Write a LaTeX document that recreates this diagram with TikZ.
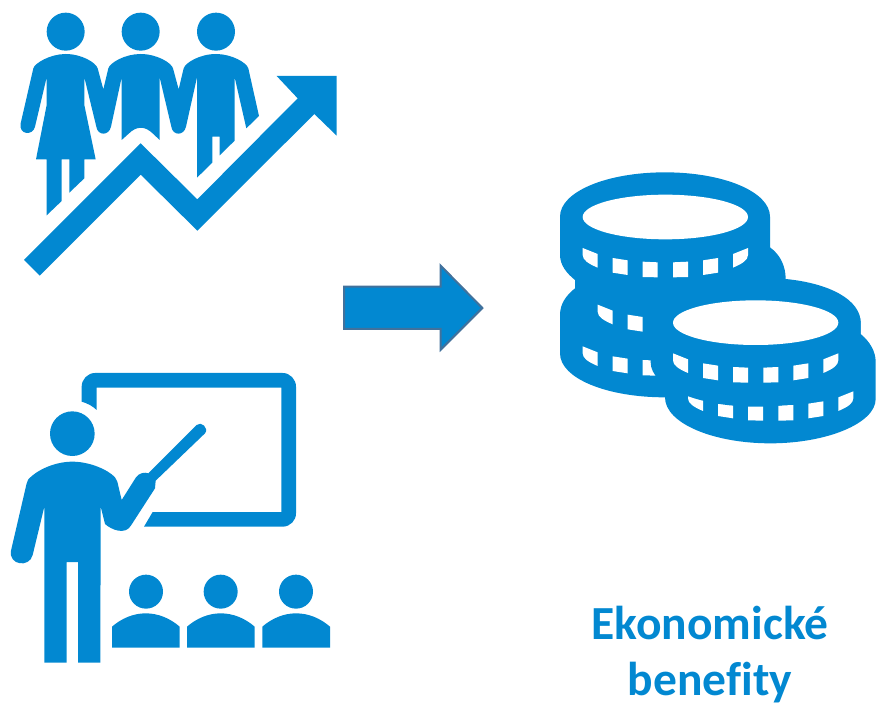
\documentclass[tikz,border=0pt]{standalone}
\usepackage{fontspec}
\setmainfont[Ligatures=NoCommon]{Carlito}
\definecolor{iconblue}{HTML}{0288D1}
\definecolor{arrowedge}{HTML}{41719C}
\newcommand{\coinrow}[2]{%
  \begin{scope}[shift={(#1,#2)}]
    \fill[iconwhite] (128,264) -- (173,282) -- (173,323) .. controls (145,311) and (128,300) .. (128,285) -- cycle;
    \fill[iconwhite] (218,294) -- (263,301) -- (263,345) -- (218,338) -- cycle;
    \fill[iconwhite] (308,305) -- (353,307) -- (353,352) -- (308,351) -- cycle;
    \fill[iconwhite] (399,307) -- (444,305) -- (444,351) -- (399,352) -- cycle;
    \fill[iconwhite] (489,301) -- (534,294) -- (534,338) -- (489,345) -- cycle;
    \fill[iconwhite] (579,282) -- (624,264) -- (624,285) .. controls (624,300) and (607,311) .. (579,323) -- cycle;
  \end{scope}}
\tikzset{
  icon/.style={fill=iconblue,draw=none},
  iconwhite/.style={fill=white,draw=none},
  bigarrow/.style={fill=iconblue,draw=arrowedge,line width=2pt,line join=miter},
  caption/.style={text=iconblue,font=\fontsize{47.5}{56}\selectfont\bfseries,align=center,inner sep=0pt}
}
\begin{document}
\begin{tikzpicture}[x=0.33333pt,y=-0.33333pt]
\useasboundingbox (0,0) rectangle (2634,2124);
% people + rising arrow
\begin{scope}
  \fill[icon] (197,95) circle[radius=57];
  \fill[icon] (422,95) circle[radius=57];
  \fill[icon] (648,95) circle[radius=57];
  \fill[icon] (100,205) .. controls (104,190) and (150,162) .. (197,162)
    .. controls (245,162) and (288,188) .. (293,205) -- (310,268) -- (325,205)
    .. controls (330,188) and (375,162) .. (422,162)
    .. controls (470,162) and (514,188) .. (519,205) -- (536,268) -- (551,205)
    .. controls (556,188) and (600,162) .. (648,162)
    .. controls (695,162) and (740,188) .. (745,205)
    -- (777,348) -- (739,385) -- (704,232) -- (704,422) -- (659,466) -- (659,410) -- (637,410)
    -- (637,488) -- (591,533) -- (591,232) -- (558,380)
    .. controls (552,408) and (518,408) .. (514,380) -- (479,232) -- (479,420) -- (460,402)
    .. controls (435,377) and (410,377) .. (385,402) -- (365,420) -- (365,232) -- (333,380)
    .. controls (327,408) and (293,408) .. (289,380) -- (253,232) -- (253,315) -- (287,478)
    -- (253,478) -- (253,535) -- (208,578) -- (208,478) -- (185,478) -- (185,603) -- (140,646)
    -- (140,478) -- (108,478) -- (140,315) -- (140,232) -- (105,380)
    .. controls (99,408) and (55,405) .. (62,370) -- cycle;
  \fill[icon] (72,780) -- (422,430) -- (592,598) -- (893,295) -- (830,228) -- (1010,228)
    -- (1010,407) -- (943,342) -- (592,692) -- (422,524) -- (119,827) -- cycle;
\end{scope}
% teacher
\begin{scope}[shift={(0,1080)}]
  \fill[icon] (245,125) -- (245,80) .. controls (245,58) and (263,39) .. (285,39) -- (848,39)
    .. controls (870,39) and (888,58) .. (888,80) -- (888,460)
    .. controls (888,482) and (870,500) .. (848,500) -- (432,500) -- (458,456) -- (844,456) -- (844,83)
    -- (290,83) -- (290,150) .. controls (278,138) and (262,130) .. (245,125) -- cycle;
  \fill[icon] (217,221) circle[radius=67];
  \fill[icon] (85,358) .. controls (110,330) and (165,305) .. (217,305)
    .. controls (270,305) and (325,330) .. (345,352) -- (352,365) -- (365,420) -- (408,352)
    .. controls (418,338) and (435,336) .. (445,340) -- (590,195)
    .. controls (603,182) and (628,205) .. (615,220) -- (467,362) -- (465,385) -- (392,498)
    .. controls (375,525) and (335,510) .. (315,492) -- (302,440) -- (301,908) -- (234,908)
    -- (234,606) -- (200,606) -- (200,908) -- (133,908) -- (133,440) -- (98,585)
    .. controls (88,625) and (25,615) .. (33,572) -- (80,370) -- cycle;
  \fill[icon] (438,695) circle[radius=51];
  \fill[icon] (662,695) circle[radius=51];
  \fill[icon] (888,695) circle[radius=51];
  \foreach \dx in {0,225,451}{
    \fill[icon,shift={(\dx,0)}] (336,863) -- (336,800) .. controls (365,775) and (400,760) .. (437,760)
      .. controls (475,760) and (510,775) .. (539,800) -- (539,863) -- cycle;
  }
\end{scope}
% block arrow
\begin{scope}[shift={(992,752)}]
  \path[bigarrow] (40,108) -- (330,108) -- (330,45) -- (455,172) -- (330,297) -- (330,235) -- (40,235) -- cycle;
\end{scope}
% coins
\begin{scope}[shift={(1620,480)}]
  \fill[icon] (60,170) .. controls (60,95) and (200,37) .. (375,37)
    .. controls (550,37) and (690,95) .. (690,170) -- (690,262)
    .. controls (722,285) and (737,320) .. (737,357)
    .. controls (870,370) and (962,420) .. (962,488) -- (962,522)
    .. controls (990,545) and (1007,575) .. (1007,605) -- (1007,717)
    .. controls (1007,790) and (860,850) .. (691,850)
    .. controls (520,850) and (375,790) .. (375,712)
    .. controls (200,712) and (60,655) .. (60,580) -- (60,465)
    .. controls (60,430) and (80,405) .. (105,385) -- (105,360)
    .. controls (80,340) and (60,315) .. (60,285) -- cycle;
  \coinrow{45}{170}
  \coinrow{0}{295}
  \coinrow{316}{430}
  \fill[icon] (332,488) .. controls (332,415) and (472,355) .. (647,355)
    .. controls (822,355) and (962,415) .. (962,488) -- (962,607)
    .. controls (962,680) and (822,740) .. (647,740)
    .. controls (472,740) and (332,680) .. (332,607) -- cycle;
  \coinrow{0}{0}
  \coinrow{271}{316}
  \fill[iconwhite] (376,171) ellipse[x radius=248,y radius=67];
  \fill[iconwhite] (647,488) ellipse[x radius=248,y radius=67];
\end{scope}
\node[caption] (cap) at (2130,1963) {Ekonomické\\benefity};
\end{tikzpicture}
\end{document}
